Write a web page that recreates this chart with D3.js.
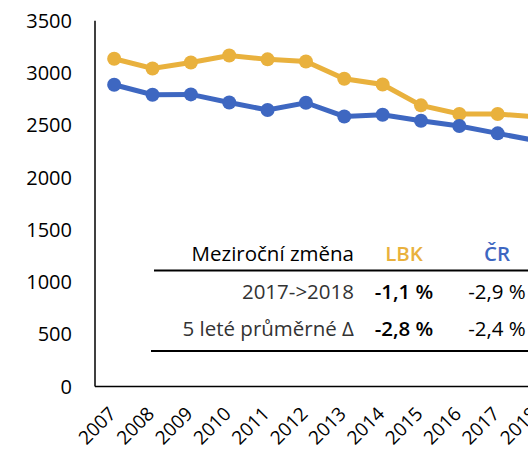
<!DOCTYPE html>
<html>
<head>
<meta charset="utf-8">
<title>LBK vs ČR</title>
<style>
  body { margin: 0; background: #fff; }
  svg text { font-family: "Open Sans", sans-serif; fill: #000; }
</style>
</head>
<body>
<script src="https://d3js.org/d3.v7.min.js"></script>
<script>
var years = ["2007","2008","2009","2010","2011","2012","2013","2014","2015","2016","2017","2018"];
var lbk = [3136, 3043, 3100, 3167, 3130, 3110, 2945, 2890, 2690, 2607, 2607, 2580];
var cr  = [2887, 2792, 2795, 2718, 2645, 2715, 2584, 2600, 2543, 2492, 2422, 2352];
var yTicks = [0, 500, 1000, 1500, 2000, 2500, 3000, 3500];

var tableHead = ["Meziroční změna", "LBK", "ČR"];
var tableRows = [
  ["2017->2018", "-1,1 %", "-2,9 %"],
  ["5 leté průměrné Δ", "-2,8 %", "-2,4 %"]
];

var orange = "#e9b13d", blue = "#3e67c1";
var width = 528, height = 452;

var svg = d3.select("body").append("svg")
    .attr("width", width)
    .attr("height", height);

// plot runs off the right edge, as in the original
var x = d3.scalePoint()
    .domain(years)
    .range([95, 95 + years.length * 38.35])
    .padding(0.5);

var y = d3.scaleLinear()
    .domain([0, 3500])
    .range([386.5, 20.7]);

// y labels
svg.append("g")
  .selectAll("text")
  .data(yTicks)
  .join("text")
    .attr("x", 72)
    .attr("y", function (d) { return y(d); })
    .attr("dy", "0.36em")
    .attr("text-anchor", "end")
    .style("font-size", "20px")
    .text(function (d) { return d; });

// axis lines
svg.append("line")
    .attr("x1", 95).attr("x2", 95)
    .attr("y1", y(3500)).attr("y2", y(0))
    .attr("stroke", "#000").attr("stroke-width", 1.5);
svg.append("line")
    .attr("x1", 95).attr("x2", width)
    .attr("y1", y(0)).attr("y2", y(0))
    .attr("stroke", "#000").attr("stroke-width", 1.5);

// x labels, rotated
svg.append("g")
  .selectAll("text")
  .data(years)
  .join("text")
    .attr("text-anchor", "end")
    .attr("transform", function (d) { return "translate(" + (x(d) + 3) + ",415) rotate(-45)"; })
    .style("font-size", "19px")
    .text(function (d) { return d; });

var line = d3.line()
    .x(function (d, i) { return x(years[i]); })
    .y(function (d) { return y(d); });

[[lbk, orange], [cr, blue]].forEach(function (s) {
  svg.append("path")
      .datum(s[0])
      .attr("d", line)
      .attr("fill", "none")
      .attr("stroke", s[1])
      .attr("stroke-width", 5);
  svg.append("g")
    .selectAll("circle")
    .data(s[0])
    .join("circle")
      .attr("cx", function (d, i) { return x(years[i]); })
      .attr("cy", function (d) { return y(d); })
      .attr("r", 7)
      .attr("fill", s[1]);
});

// table
var colX = [354, 404, 497];
var rowY = [261, 299, 336];

svg.append("rect")
    .attr("x", 150).attr("y", 236).attr("width", 378).attr("height", 120)
    .attr("fill", "#fff");

svg.append("g").selectAll("text")
  .data(tableHead)
  .join("text")
    .attr("x", function (d, i) { return colX[i]; })
    .attr("y", rowY[0])
    .attr("text-anchor", function (d, i) { return i == 0 ? "end" : "middle"; })
    .style("font-size", "20.5px")
    .style("font-weight", function (d, i) { return i == 0 ? "normal" : "600"; })
    .style("fill", function (d, i) { return i == 1 ? orange : i == 2 ? blue : "#000"; })
    .text(function (d) { return d; });

tableRows.forEach(function (row, r) {
  svg.append("g").selectAll("text")
    .data(row)
    .join("text")
      .attr("x", function (d, i) { return colX[i]; })
      .attr("y", rowY[r + 1])
      .attr("text-anchor", function (d, i) { return i == 0 ? "end" : "middle"; })
      .style("font-size", "20.5px")
      .style("font-weight", function (d, i) { return i == 1 ? "600" : "normal"; })
      .style("fill", function (d, i) { return i == 0 ? "#333" : "#000"; })
      .text(function (d) { return d; });
});

svg.append("line")
    .attr("x1", 154).attr("x2", width).attr("y1", 270.5).attr("y2", 270.5)
    .attr("stroke", "#000").attr("stroke-width", 2);
svg.append("line")
    .attr("x1", 151).attr("x2", width).attr("y1", 351).attr("y2", 351)
    .attr("stroke", "#000").attr("stroke-width", 2);
</script>
</body>
</html>
